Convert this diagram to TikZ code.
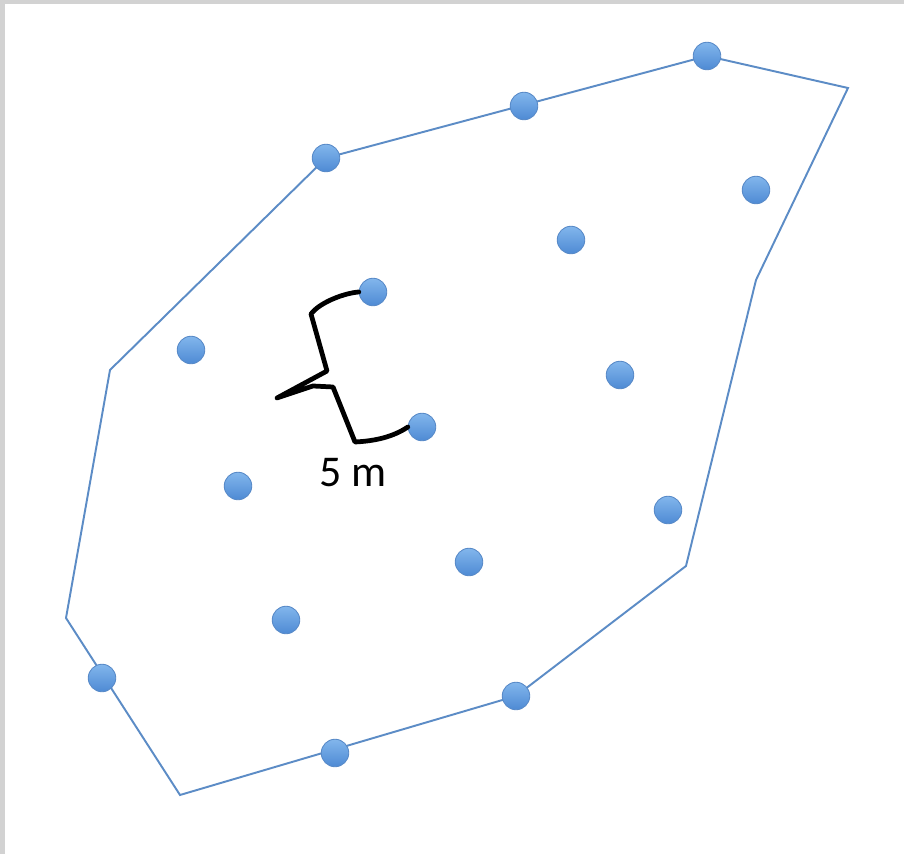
\documentclass[tikz,border=0pt]{standalone}
\usepackage{fontspec}
\setmainfont{Carlito}
\usepackage{xcolor}
\usepackage{tikz}
\definecolor{dotTop}{RGB}{130,182,236}
\definecolor{dotBot}{RGB}{78,138,212}
\definecolor{dotRim}{RGB}{88,138,200}
\definecolor{edgeBlue}{RGB}{92,140,198}

\begin{document}
\begin{tikzpicture}[
        x=0.02cm, y=-0.02cm,
        sensor/.style={circle, draw=dotRim, line width=0.5pt, top color=dotTop, bottom color=dotBot, minimum size=0.55cm, inner sep=0pt},
        boundary/.style={draw=edgeBlue, line width=1.1pt, line join=miter},
        brace/.style={draw=black, line width=2.7pt, line cap=round, line join=round}
    ]

    % Frame
    \fill[gray!35] (0,0) rectangle (904,854);
    \fill[white] (5,4) rectangle (904,854);

    % Boundary corners
    \coordinate (c1) at (707,56);
    \coordinate (c2) at (848,88);
    \coordinate (c3) at (756,280);
    \coordinate (c4) at (686,566);
    \coordinate (c5) at (516,696);
    \coordinate (c6) at (180,795);
    \coordinate (c7) at (66,618);
    \coordinate (c8) at (110,370);
    \coordinate (c9) at (326,158);

    \draw[boundary] (c1) -- (c2) -- (c3) -- (c4) -- (c5) -- (c6) -- (c7) -- (c8) -- (c9) -- cycle;

    % Sensors on the boundary
    \node[sensor] (b1) at (c1) {};
    \node[sensor] (b2) at (524,106) {};
    \node[sensor] (b3) at (c9) {};
    \node[sensor] (b4) at (c5) {};
    \node[sensor] (b5) at (335,753) {};
    \node[sensor] (b6) at (102,678) {};

    % Sensors inside
    \foreach \n/\px/\py in {1/756/190, 2/571/240, 3/373/292, 4/191/350, 5/620/375,
                            6/422/427, 7/238/486, 8/668/510, 9/469/562, 10/286/620} {
        \node[sensor] (s\n) at (\px,\py) {};
    }

    % Spacing brace
    \draw[brace] (s3.west) .. controls (345,293) and (320,302) .. (311,314)
        -- (327,371) -- (277,398) -- (313,386) -- (333,387) -- (355,442)
        .. controls (375,441) and (393,437) .. (s6.west);
    \node[font=\fontsize{25}{30}\selectfont] (len) at (353,473) {5 m};

\end{tikzpicture}
\end{document}
